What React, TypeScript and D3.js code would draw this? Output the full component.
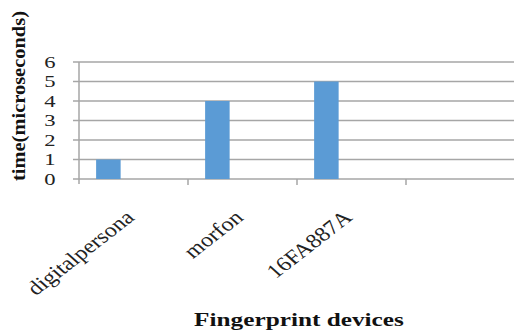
import React from "react";
import * as d3 from "d3";

const categories = ["digitalpersona", "morfon", "16FA887A", ""];
const values = [1, 4, 5, null];
const yTicks = [0, 1, 2, 3, 4, 5, 6];
const yTitle = "time(microseconds)";
const xTitle = "Fingerprint devices";

export default function App() {
  const W = 514, H = 332;
  const m = { left: 79 };
  const x = d3.scaleBand<string>().domain(categories.map((c, i) => String(i))).range([m.left, 515]).padding(0);
  const y = d3.scaleLinear().domain([0, 6]).range([179, 62]);
  const bw = x.bandwidth();
  const font = "'Liberation Serif', 'Times New Roman', serif";
  const sx = 1.33;
  return (
    <svg width={W} height={H} style={{ position: "absolute", left: 0, top: 0, background: "#fff" }}>
      {yTicks.map((t) => (
        <g key={t}>
          <line x1={m.left - 6} x2={W} y1={y(t)} y2={y(t)} stroke="#a6a6a6" strokeWidth={1.5} />
          <text transform={`translate(50,${y(t)}) scale(${sx},1)`} dy="0.35em" textAnchor="middle" fontFamily={font} fontSize={17} fill="#222">{t}</text>
        </g>
      ))}
      <line x1={m.left} x2={m.left} y1={y(6)} y2={y(0) + 5} stroke="#a6a6a6" strokeWidth={1.5} />
      {categories.map((c, i) => (
        <line key={"t" + i} x1={(x(String(i)) as number) + bw} x2={(x(String(i)) as number) + bw} y1={y(0)} y2={y(0) + 6} stroke="#a6a6a6" strokeWidth={1.5} />
      ))}
      {values.map((v, i) =>
        v == null ? null : (
          <rect key={"b" + i} x={(x(String(i)) as number) + bw * 0.157} width={bw * 0.225} y={y(v)} height={y(0) - y(v)} fill="#5b9bd5" />
        )
      )}
      {categories.map((c, i) => {
        const cx = (x(String(i)) as number) + bw * 0.5;
        return (
          <text key={"l" + i} transform={`translate(${cx + 2},${219}) scale(1.2,1) rotate(-43)`} textAnchor="end" fontFamily={font} fontSize={20} fill="#222">{c}</text>
        );
      })}
      <text transform={`translate(25,${96}) rotate(-90)`} textAnchor="middle" fontFamily={font} fontSize={18} fontWeight="bold" fill="#111" textLength={170} lengthAdjust="spacingAndGlyphs">{yTitle}</text>
      <text transform={`translate(299,326) scale(${sx},1)`} textAnchor="middle" fontFamily={font} fontSize={19} fontWeight="bold" fill="#111">{xTitle}</text>
    </svg>
  );
}
